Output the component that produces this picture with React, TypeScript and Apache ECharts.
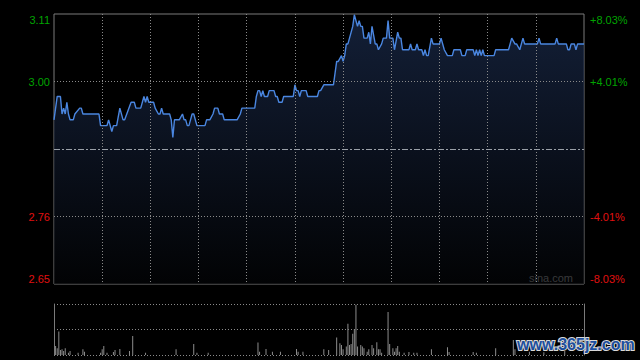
import React, { useEffect, useRef } from "react";
import * as echarts from "echarts";

// Previous close and intraday minute prices [minuteIndex, price] (HK session: 330 minutes)
const prevClose = 2.88;
const priceSeries: [number, number][] = [
  [0, 2.93], [2, 2.97], [4, 2.97], [5, 2.94], [6, 2.95], [7, 2.94], [8, 2.96], [9, 2.94],
  [10, 2.93], [12, 2.93], [13, 2.94], [16, 2.95], [17, 2.95], [18, 2.94], [28, 2.94], [29, 2.92],
  [33, 2.92], [34, 2.93], [36, 2.91], [37, 2.92], [39, 2.92], [41, 2.95], [43, 2.93], [44, 2.93],
  [48, 2.96], [50, 2.96], [51, 2.95], [54, 2.95], [56, 2.97], [57, 2.96], [58, 2.97], [59, 2.96],
  [62, 2.96], [63, 2.95], [65, 2.94], [66, 2.94], [67, 2.95], [68, 2.94], [72, 2.94], [73, 2.93],
  [74, 2.9], [75, 2.93], [78, 2.93], [80, 2.94], [81, 2.93], [82, 2.93], [83, 2.92], [84, 2.92],
  [85, 2.93], [86, 2.94], [87, 2.94], [89, 2.92], [94, 2.92], [95, 2.93], [97, 2.93], [99, 2.94],
  [100, 2.95], [102, 2.95], [103, 2.94], [105, 2.94], [106, 2.93], [114, 2.93], [116, 2.94], [117, 2.95],
  [125, 2.95], [126, 2.97], [127, 2.98], [128, 2.98], [129, 2.97], [130, 2.98], [131, 2.97], [133, 2.97],
  [134, 2.98], [137, 2.98], [138, 2.97], [139, 2.97], [140, 2.96], [142, 2.96], [143, 2.97], [149, 2.97],
  [150, 2.99], [151, 2.98], [152, 2.98], [153, 2.97], [154, 2.98], [157, 2.98], [158, 2.97], [164, 2.97],
  [165, 2.98], [166, 2.98], [168, 2.99], [174, 2.99], [175, 3.01], [176, 3.03], [177, 3.03], [179, 3.04],
  [180, 3.03], [181, 3.04], [182, 3.06], [183, 3.06], [184, 3.07], [186, 3.09], [187, 3.11], [188, 3.1],
  [189, 3.09], [190, 3.1], [191, 3.09], [192, 3.09], [193, 3.07], [195, 3.07], [196, 3.08], [197, 3.06],
  [198, 3.09], [200, 3.06], [201, 3.06], [202, 3.05], [204, 3.06], [205, 3.07], [207, 3.07], [208, 3.1],
  [209, 3.07], [211, 3.07], [212, 3.05], [214, 3.08], [215, 3.07], [216, 3.07], [217, 3.05], [221, 3.05],
  [222, 3.06], [223, 3.05], [225, 3.05], [226, 3.06], [227, 3.05], [229, 3.05], [230, 3.04], [231, 3.05],
  [232, 3.04], [233, 3.04], [235, 3.07], [236, 3.06], [240, 3.06], [241, 3.07], [242, 3.06], [243, 3.05],
  [245, 3.04], [248, 3.04], [249, 3.05], [253, 3.05], [254, 3.04], [256, 3.04], [257, 3.05], [261, 3.05],
  [262, 3.04], [263, 3.05], [264, 3.04], [265, 3.05], [266, 3.04], [267, 3.05], [268, 3.04], [274, 3.04],
  [275, 3.05], [283, 3.05], [284, 3.06], [285, 3.07], [287, 3.06], [288, 3.06], [290, 3.05], [291, 3.06],
  [292, 3.07], [293, 3.06], [301, 3.06], [302, 3.07], [303, 3.06], [312, 3.06], [313, 3.07], [314, 3.06],
  [319, 3.06], [320, 3.05], [321, 3.05], [322, 3.06], [324, 3.06], [325, 3.05], [326, 3.06], [330, 3.06],
];

// Volume bars [minuteIndex, volume]
const volumeSeries: [number, number][] = [
  [1, 27], [2, 20], [3, 70], [4, 15], [5, 17], [6, 12], [7, 20], [9, 7], [10, 12], [15, 7],
  [18, 17], [19, 10], [29, 7], [30, 17], [31, 27], [33, 7], [37, 9], [38, 15], [41, 18], [47, 12],
  [49, 57], [57, 7], [76, 17], [87, 33], [89, 7], [96, 7], [127, 37], [128, 10], [132, 18], [136, 10],
  [141, 10], [151, 18], [152, 10], [155, 10], [168, 17], [171, 15], [176, 52], [178, 35], [179, 30],
  [180, 17], [182, 25], [183, 93], [184, 30], [185, 33], [186, 63], [187, 77], [188, 150], [189, 25],
  [191, 30], [192, 25], [193, 20], [195, 10], [196, 17], [198, 30], [199, 20], [201, 38], [202, 17],
  [203, 17], [204, 7], [208, 128], [209, 33], [211, 20], [212, 10], [213, 20], [214, 27], [215, 10],
  [218, 7], [221, 9], [224, 7], [226, 7], [235, 17], [245, 23], [246, 9], [261, 9], [263, 7],
  [275, 20], [286, 45], [287, 17], [296, 10], [305, 8], [318, 12],
];

const priceTickLabels = ["2.65", "2.76", "", "3.00", "3.11"];
const pctTickLabels = ["-8.03%", "-4.01%", "", "+4.01%", "+8.03%"];
const pctRange = 8.03;
const pctStep = 4.015;

const GREEN = "#00a400";
const RED = "#e01010";
const GRID_LINE = "#8a8a8a";
const FONT = "Liberation Sans, Arial, sans-serif";

export default function App() {
  const ref = useRef<HTMLDivElement>(null);
  useEffect(() => {
    if (!ref.current) return;
    const chart = echarts.init(ref.current, null, { renderer: "svg" });
    const pctData = priceSeries.map(([i, p]) => [i, (p / prevClose - 1) * 100]);
    const labelIdx = (v: number) => Math.round(v / pctStep) + 2;
    const dotted = { color: GRID_LINE, width: 1, type: [1, 2] as any };
    chart.setOption({
      backgroundColor: "#000",
      animation: false,
      grid: [
        { left: 54, top: 14, width: 530, height: 270, show: true, borderColor: "#7a7a7a", borderWidth: 1, backgroundColor: "transparent" },
        { left: 54, top: 304, width: 530, height: 51, show: false },
      ],
      xAxis: [
        {
          gridIndex: 0, type: "value", min: 0, max: 330, interval: 30, z: 5,
          axisLine: { show: false }, axisTick: { show: false }, axisLabel: { show: false },
          splitLine: { show: true, showMinLine: false, showMaxLine: false, lineStyle: dotted },
        },
        {
          gridIndex: 1, type: "value", min: 0, max: 330, interval: 30,
          axisLine: { show: false }, axisTick: { show: false }, axisLabel: { show: false },
          splitLine: { show: false },
        },
      ],
      yAxis: [
        {
          gridIndex: 0, type: "value", min: -pctRange, max: pctRange, interval: pctStep, position: "left",
          axisLine: { show: false }, axisTick: { show: false }, splitLine: { show: false },
          axisLabel: {
            margin: 4, fontSize: 11, fontFamily: FONT,
            formatter: (v: number) => priceTickLabels[labelIdx(v)] ?? "",
            color: (v: any) => (Number(v) > 0 ? GREEN : RED),
            verticalAlignMaxLabel: "top", verticalAlignMinLabel: "bottom",
          },
        },
        {
          gridIndex: 0, type: "value", min: -pctRange, max: pctRange, interval: pctStep, position: "right",
          axisLine: { show: false }, axisTick: { show: false }, splitLine: { show: false },
          axisLabel: {
            margin: 6, fontSize: 11, fontFamily: FONT,
            formatter: (v: number) => pctTickLabels[labelIdx(v)] ?? "",
            color: (v: any) => (Number(v) > 0 ? GREEN : RED),
            verticalAlignMaxLabel: "top", verticalAlignMinLabel: "bottom",
          },
        },
        {
          gridIndex: 1, type: "value", min: 0, max: 152, interval: 76, position: "left",
          axisLine: { show: true, lineStyle: { color: "#7a7a7a" } }, axisTick: { show: false }, axisLabel: { show: false },
          splitLine: { show: true, showMinLine: true, showMaxLine: true, lineStyle: dotted },
        },
        {
          gridIndex: 1, type: "value", min: 0, max: 152, interval: 76, position: "right",
          axisLine: { show: true, lineStyle: { color: "#7a7a7a" } }, axisTick: { show: false }, axisLabel: { show: false },
          splitLine: { show: false },
        },
      ],
      series: [
        {
          type: "line", xAxisIndex: 0, yAxisIndex: 0, data: pctData, showSymbol: false, symbol: "none",
          lineStyle: { color: "#4a86e0", width: 1.4 },
          areaStyle: {
            origin: "start",
            color: new echarts.graphic.LinearGradient(0, 0, 0, 1, [
              { offset: 0, color: "#1b2c4e" },
              { offset: 1, color: "#030406" },
            ]),
          },
          markLine: {
            silent: true, symbol: "none", label: { show: false },
            data: [
              { yAxis: pctStep, lineStyle: dotted },
              { yAxis: -pctStep, lineStyle: dotted },
              { yAxis: 0, lineStyle: { color: "#9aa0a8", width: 1, type: [6, 2, 2, 2] } },
            ],
          },
        },
        {
          type: "bar", xAxisIndex: 1, yAxisIndex: 2, data: volumeSeries, barWidth: 1,
          itemStyle: { color: "#8c8c8c" },
        },
      ],
      graphic: [
        { type: "text", right: 67, top: 272, style: { text: "sina.com", fill: "#b0b0b0", font: `11px ${FONT}` } },
        {
          type: "text", left: 516, top: 335, z: 100,
          style: { text: "www.365jz.com", fill: "#1d4f9e", stroke: "#d8d8d8", lineWidth: 2, font: `bold 16px ${FONT}` },
        },
      ],
    });
    return () => chart.dispose();
  }, []);
  return (
    <div
      ref={ref}
      style={{ position: "fixed", left: 0, top: 0, width: 640, height: 360, background: "#000" }}
    />
  );
}
